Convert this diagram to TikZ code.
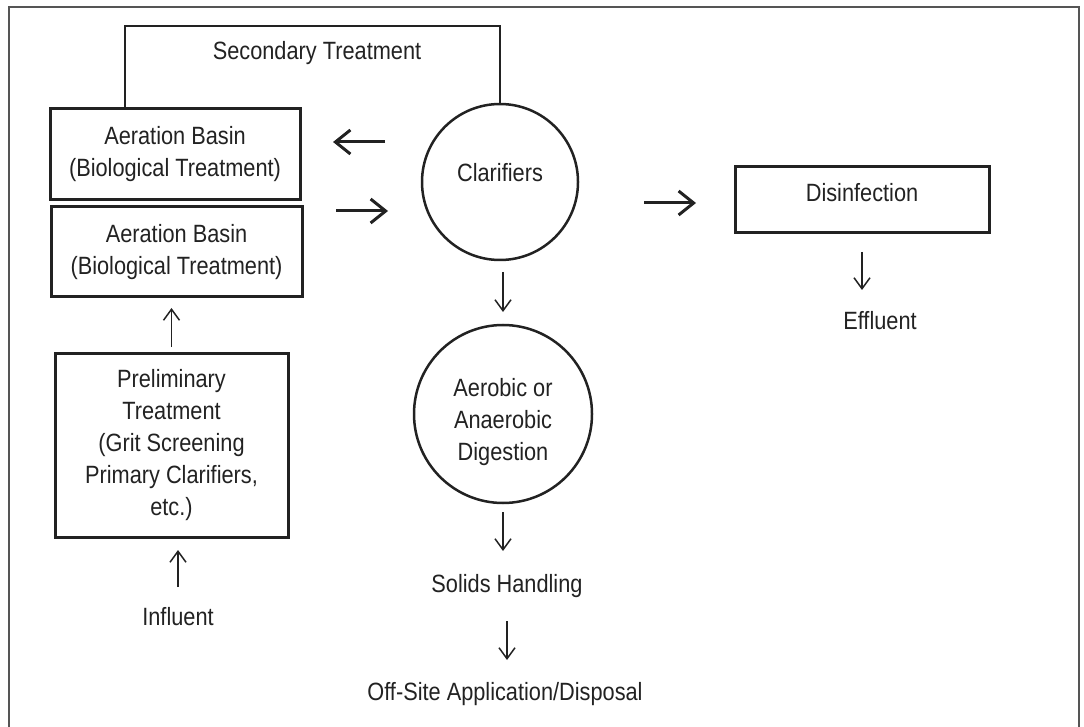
\documentclass[tikz,border=0pt]{standalone}
\usepackage{fontspec}
\setmainfont[FakeStretch=0.87]{Liberation Sans}
\usetikzlibrary{arrows.meta}

\definecolor{ink}{HTML}{222222}
\definecolor{rim}{HTML}{555555}
\newcommand\bodyfont{\fontsize{25}{32}\selectfont}

\tikzset{
    basin/.style={rectangle, draw=ink, line width=3pt, outer sep=0pt, align=center},
    tank/.style={circle, draw=ink, line width=2.5pt, outer sep=0pt, inner sep=0pt, align=center},
    tag/.style={inner sep=0pt, outer sep=0pt, text height=18pt, text depth=5pt, anchor=base},
    flow/.style={-{Straight Barb[length=11pt,width=16pt]}, line width=1.5pt, draw=ink},
    bigflow/.style={-{Straight Barb[length=15pt,width=24pt]}, line width=3pt, draw=ink}
}

\begin{document}
\begin{tikzpicture}[x=1pt, y=-1pt, font=\bodyfont, text=ink]
    \useasboundingbox (0,0) rectangle (1084,727);
    \draw[rim, line width=2pt] (9,740) |- (1079,7) -- (1079,740);

    % treatment units
    \node[basin, minimum width=250pt, minimum height=91pt] (ab1) at (175,154.5) {Aeration Basin\\(Biological Treatment)};
    \node[basin, minimum width=251pt, minimum height=90pt] (ab2) at (176.5,252) {Aeration Basin\\(Biological Treatment)};
    \node[basin, minimum width=233pt, minimum height=184pt] (prelim) at (171.5,445) {Preliminary\\Treatment\\(Grit Screening\\Primary Clarifiers,\\etc.)};
    \node[tank, minimum size=156pt] (clar) at (500,182) {Clarifiers\rule[-19pt]{0pt}{0pt}};
    \node[tank, minimum size=178pt] (dig) at (503,414) {\rule{0pt}{34pt}Aerobic or\\Anaerobic\\Digestion};
    \node[basin, minimum width=254pt, minimum height=66pt] (dis) at (862,200) {Disinfection\rule[-15pt]{0pt}{0pt}};

    % plain labels
    \node[tag] (sec) at (317,60) {Secondary Treatment};
    \node[tag] (eff) at (880,330) {Effluent};
    \node[tag] (sol) at (507,592) {Solids Handling};
    \node[tag] (off) at (505,700) {Off-Site Application/Disposal};
    \node[tag] (infl) at (178,625) {Influent};

    % return line over the top
    \draw[ink, line width=2.5pt] ([xshift=-50pt]ab1.north) -- ++(0,-83) -| (clar.north);

    % flows
    \draw[bigflow] ([shift={(85pt,12.5pt)}]ab1.east) -- ([shift={(33pt,12.5pt)}]ab1.east);
    \draw[bigflow] ([shift={(34pt,-4pt)}]ab2.north east) -- ([shift={(86pt,-4pt)}]ab2.north east);
    \draw[bigflow] ([shift={(-91pt,-3pt)}]dis.west) -- ([shift={(-39pt,-3pt)}]dis.west);
    \draw[flow, shorten <=12pt, shorten >=13pt] (dig.north |- clar.south) -- (dig.north);
    \draw[flow, shorten <=9pt, shorten >=23pt] (dig.south) -- (dig.south |- sol.north);
    \draw[flow, shorten <=24pt, shorten >=22pt] (sol.south) -- (sol.south |- off.north);
    \draw[flow, shorten <=19pt, shorten >=22pt] (dis.south) -- (dis.south |- eff.north);
    \draw[flow, shorten <=20pt, shorten >=13pt] (infl.north) -- (infl.north |- prelim.south);
    \draw[flow, shorten <=6pt, shorten >=11pt] (prelim.north) -- (prelim.north |- ab2.south);
\end{tikzpicture}
\end{document}
